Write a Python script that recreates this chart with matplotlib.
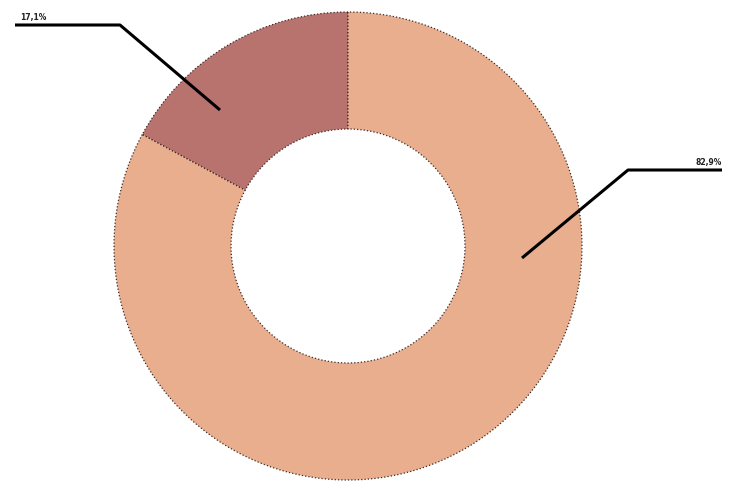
import matplotlib
matplotlib.use("Agg")
import matplotlib.pyplot as plt
import numpy as np

categories = ["A", "B"]
values = [17.1, 82.9]
labels = ["17,1%", "82,9%"]
colors = ["#B9736F", "#E9AE8D"]

W, H = 729, 483
CX, CY, R = 348, 246, 234

def px(x, y):
    return ((x - CX) / R, (CY - y) / R)

fig = plt.figure(figsize=(W / 100, H / 100), dpi=100)
ax = fig.add_axes([0, 0, 1, 1])
wedges, _ = ax.pie(values, colors=colors, startangle=90, counterclock=True,
                   radius=1.0,
                   wedgeprops=dict(width=0.5, edgecolor="#3a2a2a", linewidth=0.9,
                                   linestyle=":"))
ax.set_xlim(-CX / R, (W - CX) / R)
ax.set_ylim(-(H - CY) / R, CY / R)
ax.set_aspect("equal")
ax.axis("off")

# leader lines (layout)
leaders = [
    dict(pts=[(220, 110), (120, 25), (15, 25)], text=(20, 22), ha="left"),
    dict(pts=[(522, 258), (628, 170), (722, 170)], text=(722, 167), ha="right"),
]
for lab, ld in zip(labels, leaders):
    xs, ys = zip(*[px(*p) for p in ld["pts"]])
    ax.plot(xs, ys, color="black", lw=2.2, solid_capstyle="butt")
    tx, ty = px(*ld["text"])
    ax.text(tx, ty, lab, ha=ld["ha"], va="bottom", fontsize=5.5,
            fontweight="bold", color="#222222")

fig.savefig("out.png", dpi=100)
